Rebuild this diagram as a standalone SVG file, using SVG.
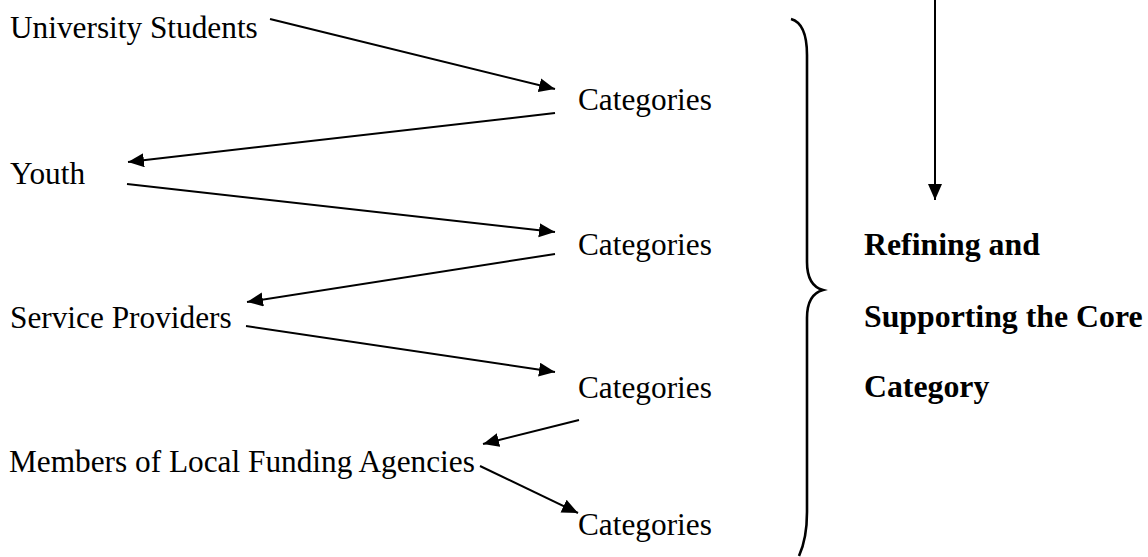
<svg xmlns="http://www.w3.org/2000/svg" width="1148" height="557" viewBox="0 0 1148 557">
<style>
text{font-family:"Liberation Serif","Times New Roman",serif;fill:#000;}
.n{font-size:31.3px;}
.b{font-size:31.8px;font-weight:bold;}
.c{stroke:#000;stroke-width:2;fill:none;}
.br{stroke:#000;stroke-width:2.6;fill:none;}
</style>
<defs>
<marker id="ah" markerUnits="userSpaceOnUse" markerWidth="18" markerHeight="16" refX="16" refY="7" orient="auto">
<path d="M0,0 L16,7 L0,14 Z" fill="#000"/>
</marker>
</defs>
<rect width="1148" height="557" fill="#fff"/>
<g id="n-university"><text class="n" x="10" y="38">University Students</text></g>
<g id="n-cat1"><text class="n" x="578" y="110">Categories</text></g>
<g id="n-youth"><text class="n" x="10" y="184">Youth</text></g>
<g id="n-cat2"><text class="n" x="578" y="255">Categories</text></g>
<g id="n-service"><text class="n" x="10" y="328">Service Providers</text></g>
<g id="n-cat3"><text class="n" x="578" y="398">Categories</text></g>
<g id="n-members"><text class="n" x="9" y="472">Members of Local Funding Agencies</text></g>
<g id="n-cat4"><text class="n" x="578" y="535">Categories</text></g>
<g id="n-core"><text class="b" x="864" y="255">Refining and</text><text class="b" x="864" y="327">Supporting the Core</text><text class="b" x="864" y="397">Category</text></g>
<g id="brace"><path class="br" d="M791,19 C802,22 807,36 807,55 L807,262 C807,278 812,287 823,290 C812,293 807,302 807,318 L807,512 C807,530 804,545 799,556"/></g>
<g id="connectors">
<line class="c" x1="270" y1="19" x2="555" y2="89" marker-end="url(#ah)"/>
<line class="c" x1="555" y1="113" x2="128" y2="162" marker-end="url(#ah)"/>
<line class="c" x1="127" y1="184" x2="555" y2="232" marker-end="url(#ah)"/>
<line class="c" x1="555" y1="254" x2="247" y2="302" marker-end="url(#ah)"/>
<line class="c" x1="246" y1="326" x2="555" y2="372" marker-end="url(#ah)"/>
<line class="c" x1="579" y1="420" x2="483" y2="444" marker-end="url(#ah)"/>
<line class="c" x1="480" y1="466" x2="578" y2="513" marker-end="url(#ah)"/>
<line class="c" x1="935" y1="0" x2="935" y2="200" marker-end="url(#ah)"/>
</g>
</svg>
